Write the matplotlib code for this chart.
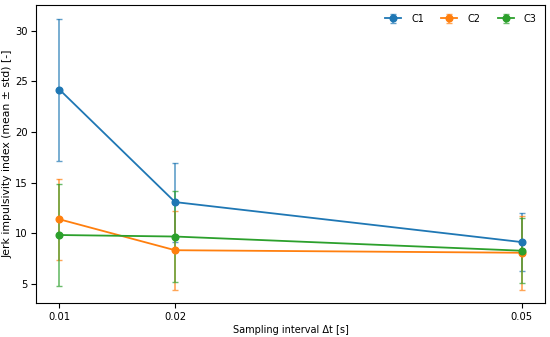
import matplotlib.pyplot as plt
import numpy as np

# sampling intervals
dt = [0.01, 0.02, 0.05]

c1_mean = [24.2, 13.1, 9.15]
c1_std = [7.0, 3.9, 2.9]
c2_mean = [11.4, 8.35, 8.1]
c2_std = [4.0, 3.9, 3.65]
c3_mean = [9.85, 9.7, 8.3]
c3_std = [5.0, 4.5, 3.2]

labels = ['C1', 'C2', 'C3']
means = [c1_mean, c2_mean, c3_mean]
stds = [c1_std, c2_std, c3_std]

plt.rcParams['font.size'] = 7
fig, ax = plt.subplots(figsize=(5.5, 3.37), dpi=100)

for lab, m, s in zip(labels, means, stds):
    eb = ax.errorbar(dt, m, yerr=s, marker='o', markersize=4.8, capsize=2.5,
                     linewidth=1.3, elinewidth=1.2, label=lab)
    for b in eb[1]:
        b.set_alpha(0.7)
    for b in eb[2]:
        b.set_alpha(0.7)

ax.set_xticks(dt)
ax.set_xticklabels(['0.01', '0.02', '0.05'])
ax.tick_params(labelsize=7.2, pad=2.5)
ax.set_xlabel('Sampling interval Δt [s]', fontsize=7, labelpad=2.5)
ax.set_ylabel('Jerk impulsivity index (mean ± std) [-]', fontsize=7.8, labelpad=2)
ax.legend(loc='upper right', ncol=3, frameon=False, fontsize=7,
          handlelength=1.65, handletextpad=1.0, columnspacing=1.8)
fig.subplots_adjust(left=0.066, right=0.991, top=0.985, bottom=0.1)
fig.savefig('out.png')
